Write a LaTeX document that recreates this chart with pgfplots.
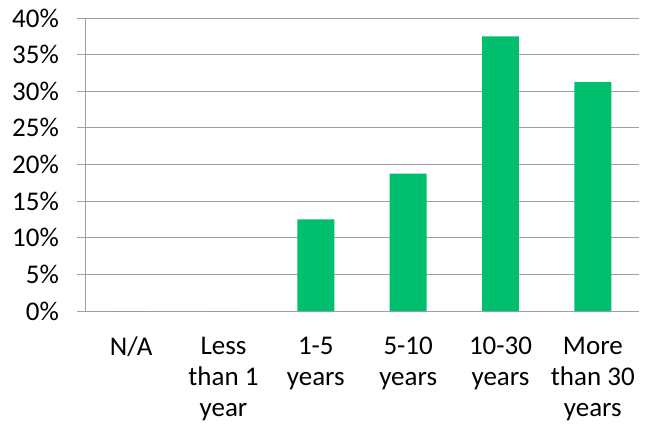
\documentclass[border=0pt]{standalone}
\usepackage{pgfplots}
\pgfplotsset{compat=1.18}
\usepackage{fontspec}
\setmainfont{Carlito}
\definecolor{bargreen}{RGB}{0,191,111}
\definecolor{gridgray}{RGB}{160,160,160}
\begin{document}
\begin{tikzpicture}[x=1bp,y=1bp]
\path[use as bounding box] (-85,-112) rectangle (564,311);
\begin{axis}[
  at={(0,0)}, anchor=south west,
  scale only axis, width=554bp, height=293bp,
  xmin=-0.5, xmax=5.5, ymin=0, ymax=40,
  axis x line*=bottom, axis y line*=left,
  axis line style={gridgray, line width=1bp},
  ytick={0,5,...,40},
  yticklabel={\pgfmathprintnumber{\tick}\%},
  /pgf/number format/assume math mode=true,
  ymajorgrids, grid style={gridgray, line width=1bp},
  major tick length=8bp,
  tick align=outside,
  tick style={gridgray, line width=1bp},
  xtick={0,1,2,3,4,5},
  xticklabels={N/A, Less\\than 1\\year, 1-5\\years, 5-10\\years, 10-30\\years, More\\than 30\\years},
  x tick style={draw=none},
  minor xtick={-0.5,0.5,1.5,2.5,3.5,4.5,5.5},
  minor tick length=8bp,
  minor tick style={gridgray, line width=1bp},
  xticklabel style={align=center, anchor=north, inner sep=0pt, font=\fontsize{27bp}{31bp}\selectfont, yshift=-18bp},
  yticklabel style={anchor=east, inner sep=0pt, font=\fontsize{27bp}{31bp}\selectfont, xshift=-18bp},
  ticklabel style={text=black},
  clip=false,
]
\addplot[ybar, bar width=0.4, fill=bargreen, draw=none] coordinates {
  (0,0) (1,0) (2,12.5) (3,18.75) (4,37.5) (5,31.25)
};
\end{axis}
\end{tikzpicture}
\end{document}
